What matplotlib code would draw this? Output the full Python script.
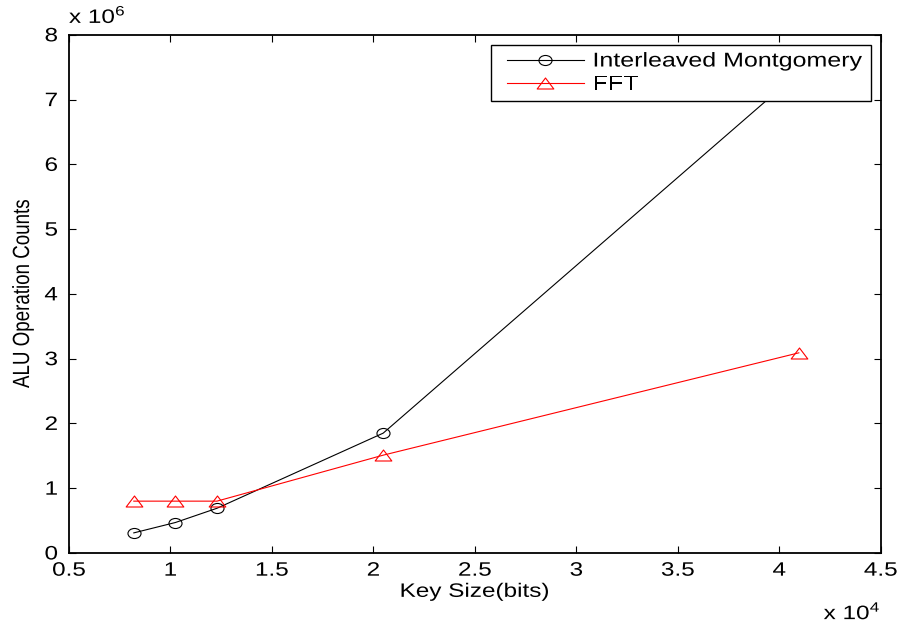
import numpy as np
import matplotlib.pyplot as plt
from matplotlib.path import Path
from matplotlib.lines import Line2D
from matplotlib.legend_handler import HandlerLine2D
from matplotlib.transforms import Affine2D
from matplotlib.patheffects import AbstractPathEffect, PathEffectRenderer

plt.rcParams['font.family'] = ['Liberation Sans', 'DejaVu Sans']
plt.rcParams['mathtext.fontset'] = 'custom'
plt.rcParams['mathtext.rm'] = 'Liberation Sans'

# key sizes in bits
key_size = [8192, 10240, 12288, 20480, 40960]
# ALU operation counts (x 1e6)
montgomery = [0.31, 0.47, 0.69, 1.85, 7.42]
fft = [0.80, 0.80, 0.80, 1.51, 3.09]

xt = [0.5, 1, 1.5, 2, 2.5, 3, 3.5, 4, 4.5]
yt = [0, 1, 2, 3, 4, 5, 6, 7, 8]

SX = 1.25  # the reference picture is stretched sideways


class Stretch(AbstractPathEffect):
    # widen glyphs around an anchor (text stays text)
    def __init__(self, sx=SX, anchor='center', axis='x'):
        super().__init__()
        self.sx = sx
        self.anchor = anchor
        self.axis = axis

    def draw_path(self, renderer, gc, tpath, affine, rgbFace=None):
        if isinstance(renderer, PathEffectRenderer):
            renderer = renderer._renderer
        if self.axis == 'y':
            t = Affine2D().scale(1, self.sx)
        else:
            v = tpath.vertices
            if tpath.codes is not None:
                v = v[tpath.codes != Path.CLOSEPOLY]
            x0, x1 = v[:, 0].min(), v[:, 0].max()
            c = {'left': x0, 'right': x1, 'center': (x0 + x1) / 2}[self.anchor]
            t = Affine2D().translate(-c, 0).scale(self.sx, 1).translate(c, 0)
        return renderer.draw_path(gc, tpath, t + affine, rgbFace)


# wide markers, like the stretched original
circ = Path.unit_circle()
ellipse = Path(circ.vertices * [1.0, 0.77], circ.codes)
tri = Path([(0, 0.66), (-1, -0.66), (1, -0.66), (0, 0.66)],
           [Path.MOVETO, Path.LINETO, Path.LINETO, Path.CLOSEPOLY])

fig = plt.figure(figsize=(9.01, 6.22), dpi=100)
ax = fig.add_axes([0.0766, 0.111, 0.901, 0.833])

x = np.array(key_size) / 1e4
ax.plot(x, montgomery, color='black', lw=0.8, marker=ellipse, markersize=9.4,
        markerfacecolor='none', markeredgewidth=0.8, label='Interleaved Montgomery')
ax.plot(x, fft, color='red', lw=0.8, marker=tri, markersize=12,
        markerfacecolor='none', markeredgewidth=0.8, label='FFT')

ax.set_xlim(0.5, 4.5)
ax.set_ylim(0, 8)
ax.set_xticks(xt)
ax.set_xticklabels([('%g' % v) for v in xt])
ax.set_yticks(yt)
ax.set_yticklabels([('%g' % v) for v in yt])
ax.tick_params(direction='in', top=True, right=True, length=5, width=0.8,
               labelsize=14)
ax.tick_params(axis='x', pad=7)
ax.tick_params(axis='y', pad=8)
for s in ax.spines.values():
    s.set_linewidth(1.3)
for lab in ax.get_xticklabels():
    lab.set_path_effects([Stretch()])
for lab in ax.get_yticklabels():
    lab.set_path_effects([Stretch(anchor='right')])

ax.set_xlabel('Key Size(bits)', fontsize=14, labelpad=3,
              path_effects=[Stretch()])
ax.set_ylabel('ALU Operation Counts', fontsize=13.5, labelpad=10,
              path_effects=[Stretch(axis='y')])

ax.text(0.0, 1.015, r'x 10$^{6}$', transform=ax.transAxes, fontsize=14,
        ha='left', va='bottom', path_effects=[Stretch(anchor='left')])
ax.text(1.0, -0.092, r'x 10$^{4}$', transform=ax.transAxes, fontsize=14,
        ha='right', va='top', path_effects=[Stretch(anchor='right')])

leg = ax.legend(loc='upper left', bbox_to_anchor=(0.5197, 0.5, 0.468, 0.4813),
                mode='expand', borderaxespad=0, fontsize=14.4, fancybox=False,
                framealpha=1, edgecolor='black', handlelength=4.3,
                handletextpad=0.45, borderpad=0.35, labelspacing=0.2,
                handler_map={Line2D: HandlerLine2D(xpad=0.45)})
leg.get_frame().set_linewidth(1.0)
leg.set_zorder(5)
for t in leg.get_texts():
    t.set_path_effects([Stretch(anchor='left')])

fig.savefig('out.png', dpi=100)
